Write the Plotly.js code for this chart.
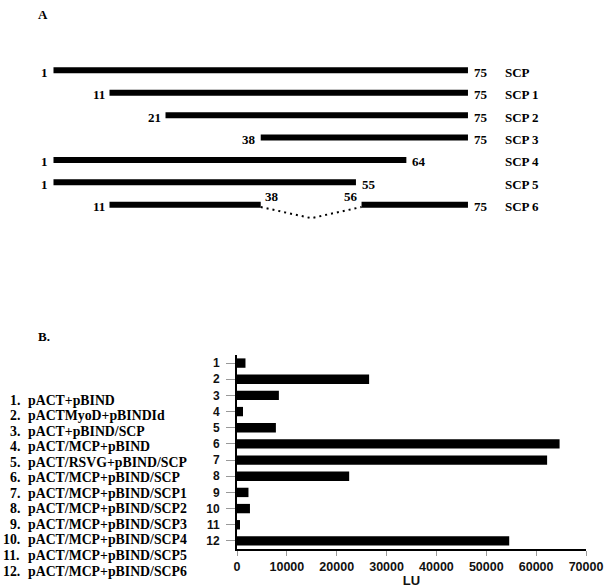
<!DOCTYPE html>
<html>
<head>
<meta charset="utf-8">
<script src="https://cdn.plot.ly/plotly-3.0.1.min.js"></script>
<style>
  html, body { margin: 0; padding: 0; background: #fff; }
  #chart { width: 608px; height: 588px; }
</style>
</head>
<body>
<div id="chart"></div>
<script>
// panel A: SCP deletion constructs (residue numbers)
var fragNames = ['SCP', 'SCP 1', 'SCP 2', 'SCP 3', 'SCP 4', 'SCP 5', 'SCP 6'];
var fragStart = [1, 11, 21, 38, 1, 1, 11];
var fragEnd = [75, 75, 75, 75, 64, 55, 75];
// SCP 6 lacks the residues between these two
var gapRow = 'SCP 6';
var gapFrom = 38;
var gapTo = 56;

// panel B: two-hybrid luciferase readout
var sampleIds = ['1', '2', '3', '4', '5', '6', '7', '8', '9', '10', '11', '12'];
var constructs = [
    'pACT+pBIND',
    'pACTMyoD+pBINDId',
    'pACT+pBIND/SCP',
    'pACT/MCP+pBIND',
    'pACT/RSVG+pBIND/SCP',
    'pACT/MCP+pBIND/SCP',
    'pACT/MCP+pBIND/SCP1',
    'pACT/MCP+pBIND/SCP2',
    'pACT/MCP+pBIND/SCP3',
    'pACT/MCP+pBIND/SCP4',
    'pACT/MCP+pBIND/SCP5',
    'pACT/MCP+pBIND/SCP6'
];
var luValues = [1700, 26500, 8400, 1200, 7800, 64700, 62200, 22500, 2300, 2600, 600, 54600];
var luTicks = [0, 10000, 20000, 30000, 40000, 50000, 60000, 70000];

var W = 608, H = 588;
var serif = 'Liberation Serif, Times New Roman, serif';
var sans = 'Liberation Sans, Arial, sans-serif';

function px(x) { return x / W; }
function py(y) { return 1 - y / H; }

// ---- panel A segments ----
var segX = [], segY = [];
for (var i = 0; i < fragNames.length; i++) {
    if (fragNames[i] == gapRow) {
        segX.push(fragStart[i], gapFrom, null, gapTo, fragEnd[i], null);
        segY.push(i, i, null, i, i, null);
    } else {
        segX.push(fragStart[i], fragEnd[i], null);
        segY.push(i, i, null);
    }
}

var gapIdx = fragNames.indexOf(gapRow);
var traces = [
    {
        x: segX, y: segY,
        xaxis: 'x2', yaxis: 'y2',
        mode: 'lines', type: 'scatter',
        line: { color: '#000', width: 6 },
        hoverinfo: 'skip', showlegend: false
    },
    {
        x: [gapFrom, (gapFrom + gapTo) / 2, gapTo],
        y: [gapIdx + 0.1, gapIdx + 0.6, gapIdx + 0.1],
        xaxis: 'x2', yaxis: 'y2',
        mode: 'lines', type: 'scatter',
        line: { color: '#000', width: 2, dash: '2px,4px' },
        hoverinfo: 'skip', showlegend: false
    },
    {
        x: luValues, y: sampleIds,
        type: 'bar', orientation: 'h',
        marker: { color: '#000' },
        hoverinfo: 'x', showlegend: false
    }
];

var annFont = { family: serif, size: 13, color: '#000', weight: 'bold' };
var keyFont = { family: serif, size: 13.8, color: '#000', weight: 'bold' };
var annotations = [];

annotations.push({ text: '<b>A</b>', xref: 'paper', yref: 'paper', x: px(36), y: py(14),
    xanchor: 'left', yanchor: 'middle', showarrow: false, font: annFont });
annotations.push({ text: '<b>B.</b>', xref: 'paper', yref: 'paper', x: px(36), y: py(336),
    xanchor: 'left', yanchor: 'middle', showarrow: false, font: annFont });

for (var i = 0; i < fragNames.length; i++) {
    annotations.push({ text: '<b>' + fragStart[i] + '</b>', xref: 'x2', yref: 'y2',
        x: fragStart[i], y: i, xanchor: 'right', yanchor: 'middle', xshift: -3, yshift: -2,
        showarrow: false, font: annFont });
    annotations.push({ text: '<b>' + fragEnd[i] + '</b>', xref: 'x2', yref: 'y2',
        x: fragEnd[i], y: i, xanchor: 'left', yanchor: 'middle', xshift: 4, yshift: -2,
        showarrow: false, font: annFont });
    annotations.push({ text: '<b>' + fragNames[i] + '</b>', xref: 'paper', yref: 'y2',
        x: px(503), y: i, xanchor: 'left', yanchor: 'middle', yshift: -2,
        showarrow: false, font: annFont });
}
annotations.push({ text: '<b>' + gapFrom + '</b>', xref: 'x2', yref: 'y2',
    x: gapFrom, y: gapIdx, xanchor: 'left', yanchor: 'middle', xshift: 2, yshift: 8,
    showarrow: false, font: annFont });
annotations.push({ text: '<b>' + gapTo + '</b>', xref: 'x2', yref: 'y2',
    x: gapTo, y: gapIdx, xanchor: 'right', yanchor: 'middle', xshift: -2, yshift: 8,
    showarrow: false, font: annFont });

// numbered key to the bars
for (var i = 0; i < constructs.length; i++) {
    var yy = py(400 + i * 15.55);
    annotations.push({ text: '<b>' + sampleIds[i] + '.</b>', xref: 'paper', yref: 'paper',
        x: px(22), y: yy, xanchor: 'right', yanchor: 'middle',
        showarrow: false, font: keyFont });
    annotations.push({ text: '<b>' + constructs[i] + '</b>', xref: 'paper', yref: 'paper',
        x: px(26), y: yy, xanchor: 'left', yanchor: 'middle',
        showarrow: false, font: keyFont });
}

var layout = {
    width: W, height: H,
    margin: { l: 0, r: 0, t: 0, b: 0 },
    paper_bgcolor: '#fff', plot_bgcolor: 'rgba(0,0,0,0)',
    showlegend: false,
    bargap: 0.42,
    xaxis: {
        domain: [px(237), px(586)],
        range: [0, 70000],
        tickvals: luTicks,
        ticktext: luTicks.map(function (v) { return '<b>' + v + '</b>'; }),
        showgrid: false, zeroline: false,
        showline: true, linecolor: '#000', linewidth: 2,
        ticks: 'outside', ticklen: 5, tickcolor: '#999', tickwidth: 1,
        ticklabelstandoff: 0,
        tickfont: { family: sans, size: 12.5, color: '#111' },
        title: { text: '<b>LU</b>', font: { family: sans, size: 13, color: '#111' }, standoff: 0 },
        fixedrange: true
    },
    yaxis: {
        domain: [py(549), py(355)],
        type: 'category',
        categoryorder: 'array', categoryarray: sampleIds,
        range: [11.5, -0.5],
        ticktext: sampleIds.map(function (v) { return '<b>' + v + '</b>'; }),
        tickvals: sampleIds,
        showgrid: false, zeroline: false,
        showline: true, linecolor: '#000', linewidth: 2,
        ticks: 'outside', ticklen: 9, tickcolor: '#999', tickwidth: 1,
        ticklabelstandoff: 4,
        tickfont: { family: sans, size: 12, color: '#111' },
        fixedrange: true
    },
    xaxis2: {
        domain: [0, 1], anchor: 'y2',
        range: [-8.55, 100],
        visible: false, fixedrange: true
    },
    yaxis2: {
        domain: [0, 1], anchor: 'x2',
        range: [23.11, -3.14],
        visible: false, fixedrange: true
    },
    annotations: annotations
};

Plotly.newPlot('chart', traces, layout, { displayModeBar: false, staticPlot: true });
</script>
</body>
</html>
